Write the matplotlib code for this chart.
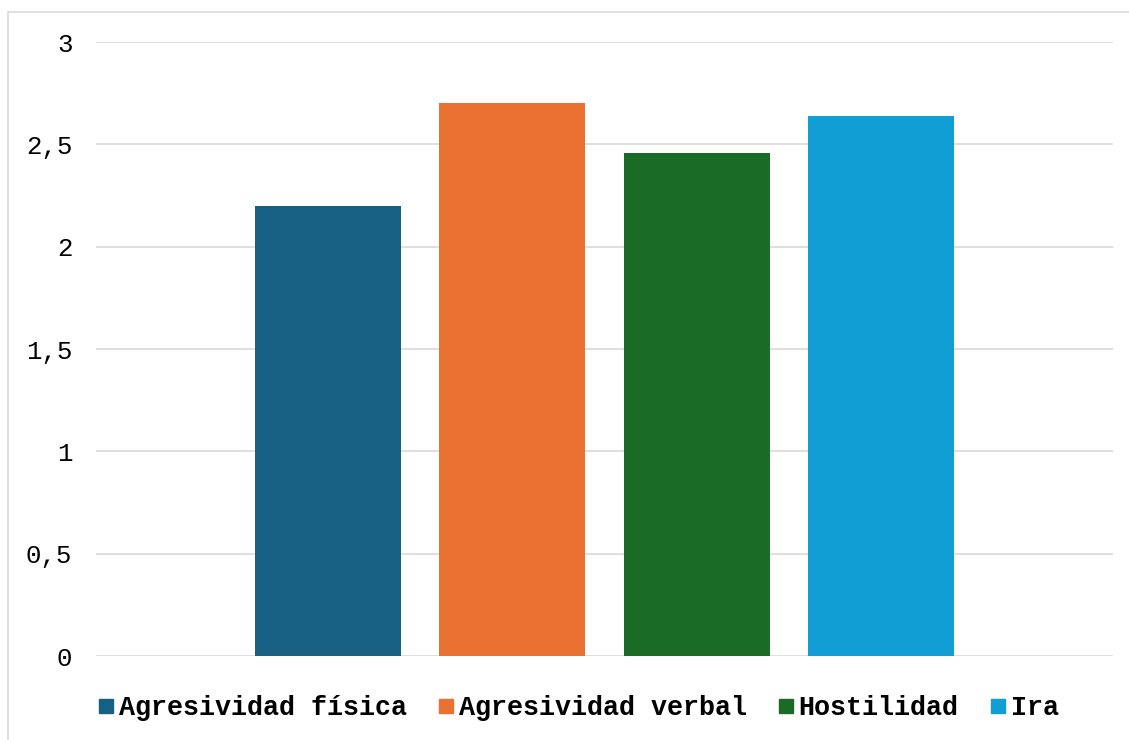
import matplotlib
matplotlib.use("Agg")
import matplotlib.pyplot as plt
from matplotlib.lines import Line2D
from matplotlib.patches import Rectangle
from matplotlib.ticker import FixedLocator, FuncFormatter

# Mean scores per aggression dimension
series = ["Agresividad física", "Agresividad verbal", "Hostilidad", "Ira"]
values = [2.20, 2.70, 2.46, 2.64]
colors = ["#175F83", "#EA7131", "#1A6B25", "#109ED4"]
yticks = [0, 0.5, 1, 1.5, 2, 2.5, 3]

FONT = "Liberation Mono"

fig = plt.figure(figsize=(11.29, 7.40), dpi=100)
ax = fig.add_axes([96 / 1129, 1 - 656 / 740, (1113 - 96) / 1129, (656 - 42) / 740])

positions = list(range(len(series)))
ax.bar(positions, values, width=146 / 184, color=colors, zorder=3)

ax.set_xlim(-1.261, 3 + 1.261)
ax.set_ylim(0, 3)
ax.yaxis.set_major_locator(FixedLocator(yticks))
ax.yaxis.set_major_formatter(
    FuncFormatter(lambda v, _: ("%g" % v).replace(".", ","))
)
ax.grid(axis="y", color="#D9D9D9", linewidth=1.2, zorder=0)
ax.set_xticks([])
ax.tick_params(axis="y", length=0, pad=17, labelsize=18.5)
for lbl in ax.get_yticklabels():
    lbl.set_fontfamily(FONT)
    lbl.set_color("#000000")
for s in ax.spines.values():
    s.set_visible(False)

handles = [
    Line2D([], [], linestyle="none", marker="s", markersize=9.4,
           markerfacecolor=c, markeredgecolor=c)
    for c in colors
]
leg = fig.legend(
    handles, series, loc="center", ncol=4,
    bbox_to_anchor=(579 / 1129, 1 - 708 / 740),
    frameon=False, handlelength=0.49, handletextpad=0.22,
    columnspacing=1.23, borderaxespad=0,
    prop={"family": FONT, "weight": "bold", "size": 19.3},
)

# Outer chart-area border (left and top edges)
fig.patches.append(Rectangle(
    (8 / 1129, -0.1), 1.2, 1 - 12 / 740 + 0.1,
    transform=fig.transFigure, fill=False,
    edgecolor="#D9D9D9", linewidth=1.2, zorder=0,
))

fig.savefig("out.png", dpi=100, facecolor="white")
